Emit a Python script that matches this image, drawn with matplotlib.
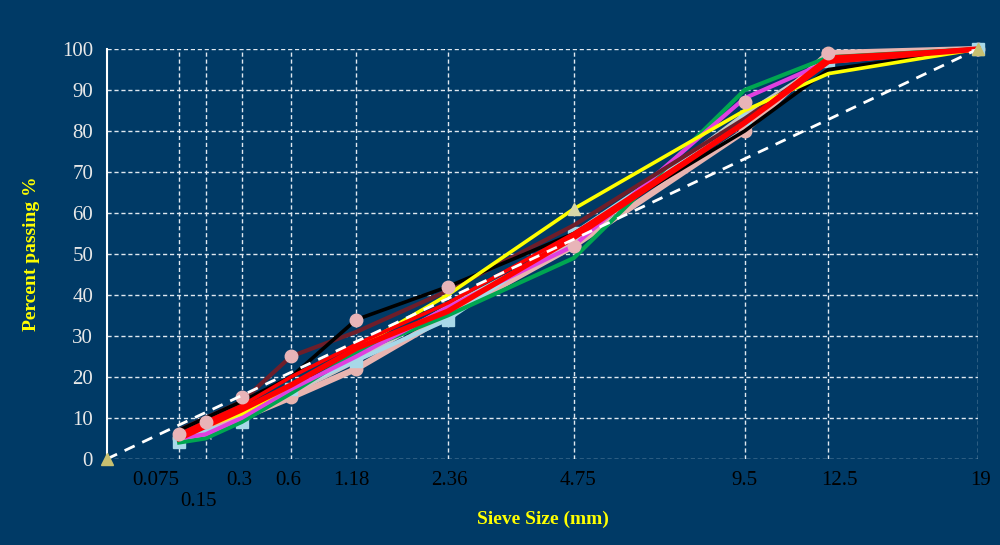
import numpy as np
import matplotlib.pyplot as plt

# sieve sizes (mm) and percent passing for each blend
sieves = [0.075, 0.15, 0.3, 0.6, 1.18, 2.36, 4.75, 9.5, 12.5, 19]
tick_text = ['0.075', '0.15', '0.3', '0.6', '1.18', '2.36', '4.75', '9.5', '12.5', '19']

black = [7, 10, 14, 20, 34, 42, 55, 80, 95, 100]
maroon = [7, 10, 14, 25, 31, 41, 57, 83, 97, 100]
yellow = [6, 8, 11, 18, 27, 40, 61, 85, 94, 100]
green = [4, 5, 9, 16, 26, 35, 49, 90, 98, 100]
magenta = [5, 6, 10, 17, 25, 37, 52, 88, 97, 100]
gray = [4, 6, 10, 16, 24, 37, 53, 84, 97, 100]
salmon = [5, 7, 10, 15, 22, 35, 52, 80, 99, 100]
lightblue = [4, 7, 9, 17, 24, 34, 55, 83, 97, 100]
red1 = [5, 8, 12, 18, 27, 36, 54, 82, 97, 100]
red2 = [6, 9, 13, 20, 28, 38, 55, 82, 98, 100]
pink_pts = [6, 9, 15, 25, 34, 42, 52, 87, 99, 100]

# maximum density line (0.45 power)
mdl_x = [0, 19]
mdl_y = [0, 100]

bg = '#003A66'
plt.rcParams['font.family'] = ['Liberation Serif', 'DejaVu Serif']

fig = plt.figure(figsize=(10, 5.45), dpi=100, facecolor=bg)
ax = fig.add_axes([0.107, 0.158, 0.871, 0.752])
ax.set_facecolor(bg)

fwd = lambda x: np.sign(x) * np.abs(x) ** 0.45
inv = lambda y: np.sign(y) * np.abs(y) ** (1 / 0.45)
ax.set_xscale('function', functions=(fwd, inv))
ax.set_xlim(0, 19)
ax.set_ylim(0, 100)

series = [
    (gray, '#C8C8C8', 3.5, 'x', 7),
    (salmon, '#E8B4B0', 4.5, 'o', 9),
    (lightblue, '#A8D8E8', 3.0, 's', 8),
    (green, '#00A651', 3.0, None, 0),
    (magenta, '#E040E0', 3.0, None, 0),
    (maroon, '#6E1E2A', 3.0, None, 0),
    (black, '#000000', 2.6, None, 0),
    (yellow, '#FFFF00', 2.6, None, 0),
    (red1, '#FF0000', 4.0, None, 0),
    (red2, '#FF0000', 2.6, None, 0),
]
for vals, col, lw, mk, ms in series:
    ax.plot(sieves, vals, color=col, lw=lw, marker=mk, ms=ms,
            markeredgecolor=col, zorder=3, clip_on=False)

ax.plot(sieves, pink_pts, ls='none', marker='o', ms=9, color='#E8B4B8', zorder=4)
ax.plot(sieves, yellow, ls='none', marker='^', ms=9, markevery=[6],
        color='#D8D8A8', zorder=4)
ax.plot(mdl_x, mdl_y, color='white', lw=2, ls=(0, (4, 3)), zorder=5,
        marker='^', ms=8, markerfacecolor='#C8C070', markeredgecolor='#C8C070',
        clip_on=False)

ax.set_xticks(sieves)
ax.set_xticklabels([])
ax.set_yticks(range(0, 101, 10))
ax.tick_params(axis='y', colors='#E8E8E8', labelsize=15, length=0, pad=10)
ax.tick_params(axis='x', length=0)
ax.grid(True, color='#E0E8F0', ls=(0, (3, 2)), lw=1)
for s in ['top', 'right', 'bottom']:
    ax.spines[s].set_visible(False)
ax.spines['left'].set_color('white')
ax.spines['left'].set_linewidth(1.5)

# x labels below axis, 0.15 dropped to a second row
dx = [-17, -5, -2, -2, -4, 1, 3, 0, 8, 2]
rows = [0, 1, 0, 0, 0, 0, 0, 0, 0, 0]
for s, t, o, r in zip(sieves, tick_text, dx, rows):
    ax.annotate(t, (s, 0), xycoords=('data', 'axes fraction'),
                xytext=(o, -9 - 15 * r), textcoords='offset points',
                ha='center', va='top', fontsize=15, color='black')

ax.set_xlabel('Sieve Size (mm)', color='#FFFF00', fontsize=14,
              fontweight='bold', labelpad=34)
ax.set_ylabel('Percent passing %', color='#FFFF00', fontsize=14,
              fontweight='bold', labelpad=16)

fig.savefig('out.png', dpi=100, facecolor=bg)
